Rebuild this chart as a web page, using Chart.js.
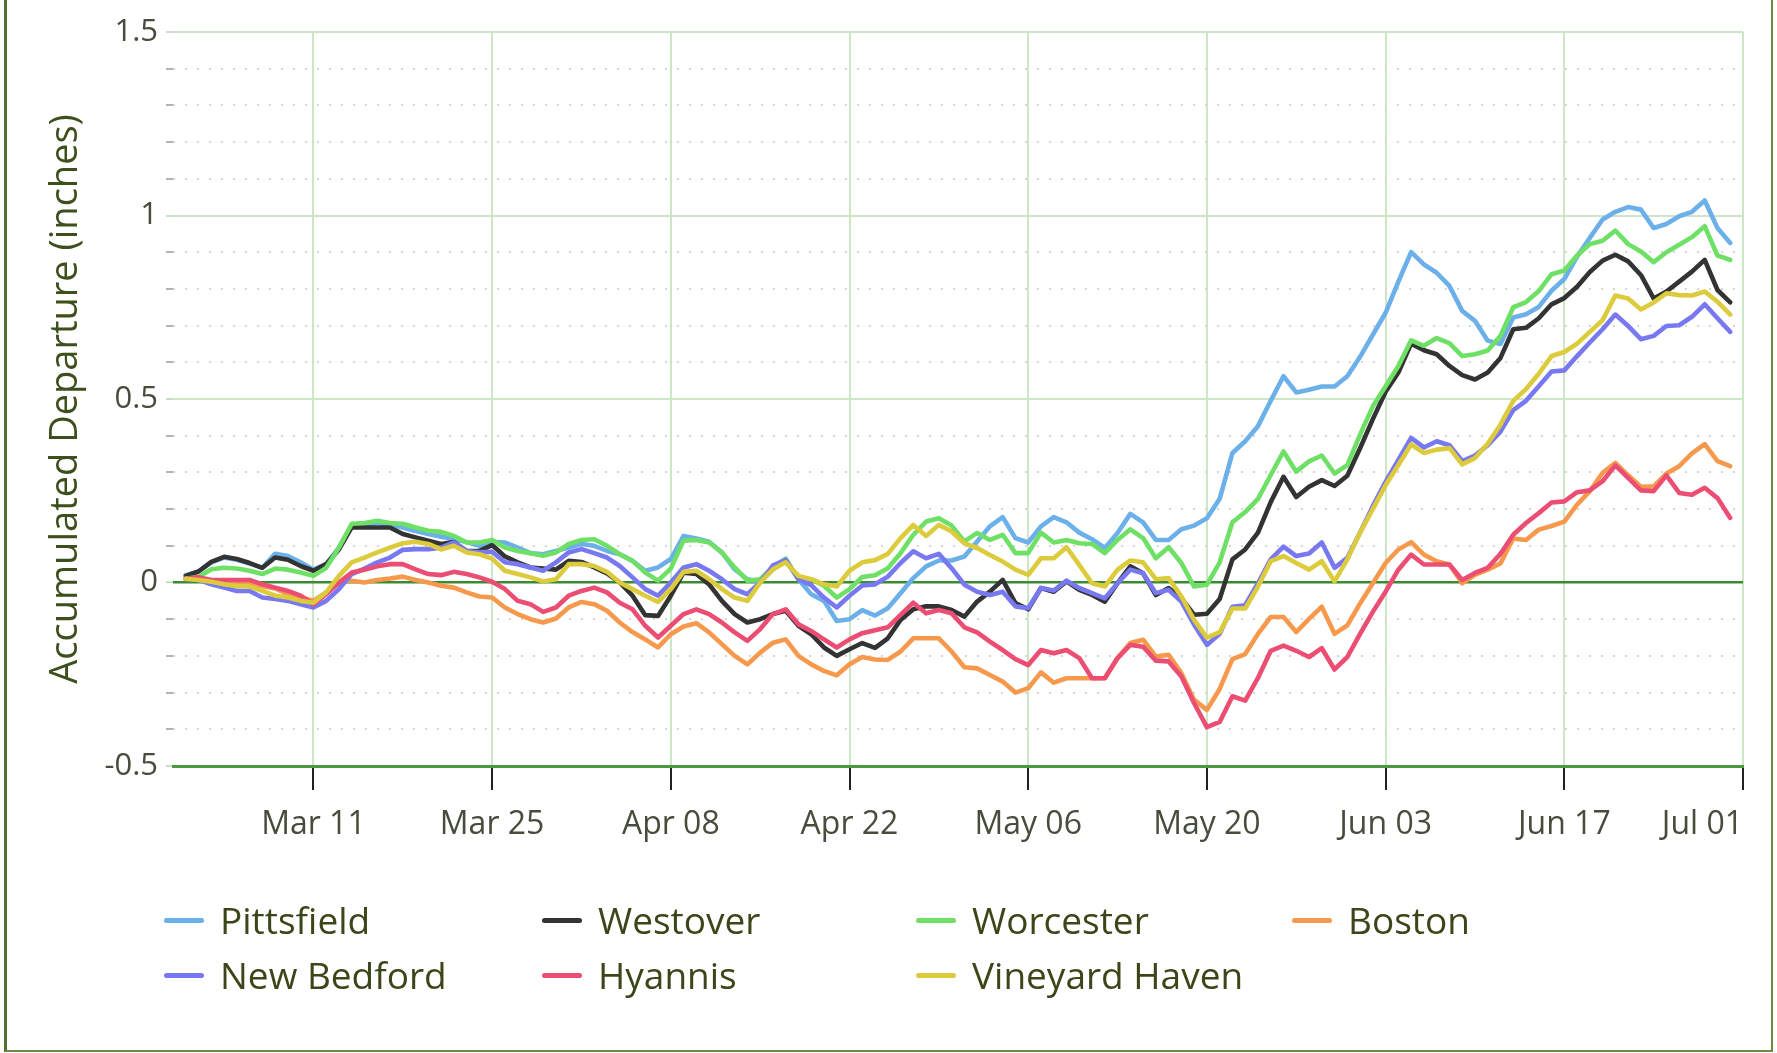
<!DOCTYPE html>
<html>
<head>
<meta charset="utf-8">
<script src="https://cdn.jsdelivr.net/npm/chart.js@4.4.1/dist/chart.umd.min.js"></script>
<style>
html,body{margin:0;padding:0;background:#fff;}
#wrap{position:relative;width:1777px;height:1053px;overflow:hidden;font-family:"Open Sans",sans-serif;background:#fff;}
#c{position:absolute;left:0;top:0;}
#frame{position:absolute;left:4px;top:-10px;width:1769px;height:1062px;border-left:3px solid #55702f;border-right:2px solid #6b8a48;border-bottom:2px solid #6b8a48;box-sizing:border-box;pointer-events:none;}
.lg{position:absolute;height:50px;line-height:50px;display:flex;align-items:center;font-size:37px;color:#3b4619;white-space:nowrap;}
.lg i{display:inline-block;width:40px;height:5px;border-radius:2.5px;margin-right:16px;}
</style>
</head>
<body>
<div id="wrap">
  <canvas id="c" width="1777" height="1053"></canvas>
  <div id="legend"></div>
  <div id="frame"></div>
</div>
<script>
// ---- data (day 0 = Mar 01, daily through Jun 30) ----
const seriesNames = ["Pittsfield","Westover","Worcester","Boston","New Bedford","Hyannis","Vineyard Haven"];
const seriesColors = ["#6cb0ea","#333333","#6fe066","#f7994d","#7878f0","#ec4d72","#dccb3c"];

const pittsfield = [
 0.02,0.03,0.055,0.068,0.062,0.052,0.04,0.078,0.072,0.055,
 0.035,0.05,0.095,0.155,0.158,0.162,0.158,0.15,0.14,0.132,
 0.125,0.118,0.11,0.1,0.111,0.109,0.095,0.08,0.077,0.086,
 0.095,0.105,0.1,0.086,0.077,0.059,0.032,0.041,0.064,0.127,
 0.12,0.111,0.082,0.036,0.009,0.002,0.035,0.062,0.009,-0.032,
 -0.05,-0.105,-0.1,-0.075,-0.09,-0.07,-0.029,0.012,0.044,0.06,
 0.06,0.071,0.112,0.153,0.178,0.121,0.109,0.153,0.178,0.164,
 0.136,0.118,0.094,0.135,0.187,0.164,0.116,0.116,0.145,0.155,
 0.175,0.228,0.353,0.385,0.426,0.495,0.562,0.518,0.525,0.534,
 0.534,0.562,0.615,0.675,0.735,0.82,0.9,0.867,0.844,0.808,
 0.74,0.713,0.659,0.65,0.722,0.731,0.751,0.795,0.827,0.888,
 0.939,0.989,1.01,1.023,1.016,0.966,0.977,0.998,1.01,1.041,
 0.966,0.925];
const westover = [
 0.018,0.03,0.056,0.07,0.064,0.053,0.04,0.068,0.062,0.045,
 0.032,0.05,0.09,0.15,0.15,0.15,0.15,0.132,0.123,0.114,
 0.105,0.11,0.086,0.086,0.102,0.071,0.055,0.041,0.038,0.035,
 0.059,0.056,0.041,0.025,0,-0.036,-0.089,-0.091,-0.036,0.027,
 0.023,-0.005,-0.05,-0.086,-0.109,-0.1,-0.086,-0.077,-0.118,-0.141,
 -0.177,-0.2,-0.182,-0.165,-0.178,-0.152,-0.102,-0.073,-0.065,-0.065,
 -0.075,-0.093,-0.052,-0.025,0.007,-0.056,-0.073,-0.015,-0.025,0.003,
 -0.02,-0.034,-0.052,-0.002,0.044,0.025,-0.034,-0.015,-0.043,-0.088,
 -0.085,-0.045,0.063,0.09,0.136,0.219,0.288,0.233,0.261,0.279,
 0.263,0.291,0.366,0.445,0.52,0.572,0.651,0.633,0.622,0.59,
 0.565,0.553,0.572,0.612,0.69,0.694,0.72,0.758,0.775,0.806,
 0.846,0.877,0.893,0.875,0.838,0.774,0.793,0.82,0.847,0.879,
 0.797,0.763];
const worcester = [
 0.01,0.015,0.036,0.04,0.038,0.032,0.023,0.038,0.035,0.027,
 0.018,0.04,0.095,0.16,0.162,0.168,0.162,0.16,0.15,0.141,
 0.138,0.127,0.109,0.109,0.116,0.095,0.086,0.08,0.073,0.082,
 0.105,0.116,0.118,0.1,0.077,0.059,0.027,0.005,0.038,0.114,
 0.116,0.109,0.082,0.041,0.005,0.009,0.041,0.065,0.009,0.009,
 -0.009,-0.041,-0.018,0.015,0.02,0.039,0.08,0.13,0.166,0.175,
 0.155,0.112,0.135,0.116,0.13,0.08,0.08,0.136,0.109,0.116,
 0.107,0.105,0.08,0.116,0.145,0.121,0.066,0.096,0.053,-0.011,
 -0.006,0.055,0.164,0.192,0.228,0.293,0.357,0.302,0.33,0.346,
 0.297,0.32,0.403,0.48,0.535,0.59,0.66,0.645,0.666,0.652,
 0.617,0.622,0.632,0.672,0.75,0.764,0.794,0.84,0.85,0.891,
 0.922,0.931,0.959,0.922,0.902,0.873,0.9,0.92,0.941,0.971,
 0.891,0.879];
const boston = [
 0.01,0.011,0.005,0,-0.005,-0.005,-0.01,-0.016,-0.032,-0.041,
 -0.05,-0.027,0,0.005,0,0.007,0.011,0.016,0.007,0,
 -0.009,-0.014,-0.027,-0.038,-0.041,-0.068,-0.086,-0.1,-0.109,-0.098,
 -0.068,-0.053,-0.059,-0.077,-0.109,-0.135,-0.155,-0.177,-0.141,-0.12,
 -0.111,-0.136,-0.168,-0.2,-0.223,-0.191,-0.164,-0.155,-0.2,-0.223,
 -0.241,-0.253,-0.223,-0.203,-0.21,-0.211,-0.188,-0.152,-0.152,-0.152,
 -0.188,-0.231,-0.234,-0.252,-0.27,-0.3,-0.288,-0.245,-0.273,-0.261,
 -0.261,-0.261,-0.261,-0.206,-0.165,-0.156,-0.202,-0.197,-0.247,-0.32,
 -0.347,-0.29,-0.209,-0.195,-0.14,-0.094,-0.094,-0.135,-0.099,-0.066,
 -0.14,-0.117,-0.057,-0.002,0.053,0.09,0.11,0.076,0.058,0.049,
 -0.002,0.021,0.035,0.052,0.12,0.116,0.144,0.154,0.166,0.212,
 0.249,0.299,0.326,0.292,0.261,0.262,0.297,0.317,0.352,0.377,
 0.331,0.317];
const newBedford = [
 0.01,0.007,-0.005,-0.014,-0.023,-0.023,-0.041,-0.045,-0.05,-0.059,
 -0.068,-0.05,-0.018,0.023,0.038,0.055,0.068,0.089,0.091,0.091,
 0.095,0.109,0.086,0.082,0.084,0.055,0.05,0.041,0.032,0.055,
 0.082,0.091,0.08,0.068,0.045,0.014,-0.018,-0.036,0,0.041,
 0.05,0.032,0.009,-0.018,-0.032,0,0.047,0.062,0.009,-0.007,
 -0.041,-0.068,-0.036,-0.008,-0.005,0.016,0.053,0.085,0.066,0.078,
 0.039,-0.006,-0.025,-0.034,-0.025,-0.065,-0.07,-0.015,-0.022,0.005,
 -0.015,-0.029,-0.043,-0.002,0.035,0.025,-0.029,-0.02,-0.052,-0.115,
 -0.17,-0.14,-0.066,-0.062,-0.002,0.063,0.098,0.072,0.079,0.109,
 0.04,0.067,0.136,0.208,0.274,0.334,0.394,0.368,0.385,0.374,
 0.331,0.346,0.374,0.411,0.47,0.495,0.535,0.575,0.578,0.617,
 0.654,0.69,0.73,0.699,0.663,0.672,0.699,0.701,0.724,0.758,
 0.72,0.683];
const hyannis = [
 0.01,0.014,0.007,0.007,0.007,0.007,-0.005,-0.014,-0.023,-0.036,
 -0.059,-0.032,0,0.027,0.035,0.044,0.05,0.05,0.036,0.023,
 0.02,0.029,0.023,0.014,0.002,-0.018,-0.05,-0.059,-0.08,-0.068,
 -0.036,-0.023,-0.014,-0.027,-0.055,-0.073,-0.118,-0.15,-0.118,-0.086,
 -0.073,-0.086,-0.109,-0.136,-0.159,-0.127,-0.086,-0.073,-0.114,-0.132,
 -0.155,-0.177,-0.155,-0.138,-0.13,-0.122,-0.088,-0.055,-0.084,-0.075,
 -0.084,-0.122,-0.136,-0.161,-0.184,-0.209,-0.225,-0.184,-0.193,-0.184,
 -0.206,-0.261,-0.261,-0.206,-0.17,-0.175,-0.213,-0.215,-0.256,-0.329,
 -0.394,-0.38,-0.31,-0.322,-0.26,-0.186,-0.172,-0.186,-0.203,-0.179,
 -0.237,-0.203,-0.14,-0.08,-0.025,0.035,0.076,0.049,0.049,0.049,
 0.007,0.026,0.04,0.078,0.13,0.162,0.189,0.218,0.221,0.246,
 0.251,0.276,0.319,0.285,0.251,0.249,0.292,0.244,0.239,0.258,
 0.23,0.176];
const vineyardHaven = [
 0.01,0.007,0.002,-0.005,-0.01,-0.011,-0.023,-0.036,-0.041,-0.05,
 -0.055,-0.027,0.018,0.055,0.068,0.082,0.095,0.107,0.111,0.105,
 0.09,0.1,0.082,0.077,0.065,0.032,0.023,0.014,0.003,0.009,
 0.05,0.05,0.045,0.029,0,-0.018,-0.036,-0.053,-0.018,0.029,
 0.032,0.009,-0.018,-0.041,-0.05,0,0.036,0.055,0.018,0.009,
 -0.005,-0.011,0.032,0.055,0.061,0.078,0.121,0.157,0.127,0.157,
 0.139,0.107,0.094,0.075,0.057,0.035,0.021,0.066,0.066,0.096,
 0.048,-0.002,-0.011,0.035,0.06,0.055,0.009,0.012,-0.038,-0.102,
 -0.15,-0.135,-0.071,-0.071,-0.011,0.058,0.072,0.053,0.035,0.058,
 0.003,0.063,0.136,0.2,0.265,0.32,0.376,0.353,0.362,0.366,
 0.322,0.339,0.378,0.43,0.495,0.527,0.569,0.617,0.628,0.651,
 0.683,0.715,0.782,0.774,0.744,0.763,0.788,0.783,0.782,0.793,
 0.765,0.73];

const xTickDays = [10,24,38,52,66,80,94,108,122];
const xTickLabels = ["Mar 11","Mar 25","Apr 08","Apr 22","May 06","May 20","Jun 03","Jun 17","Jul 01"];
const yMajorTicks = [-0.5,0,0.5,1,1.5];
const yTitle = "Accumulated Departure (inches)";

// ---- chart ----
const allSeries = [pittsfield, westover, worcester, boston, newBedford, hyannis, vineyardHaven];
const isMajor = v => yMajorTicks.some(m => Math.abs(m - v) < 1e-6);
const isVal = (v, m) => Math.abs(v - m) < 1e-6;

const datasets = allSeries.map((arr, i) => ({
  label: seriesNames[i],
  data: arr.map((v, d) => ({x: d, y: v})),
  borderColor: seriesColors[i],
  backgroundColor: seriesColors[i],
  borderWidth: 4.6,
  pointRadius: 0,
  pointHoverRadius: 0,
  tension: 0,
  fill: false,
  borderJoinStyle: 'round',
  borderCapStyle: 'round',
  order: allSeries.length - 1 - i
}));

const minorGrid = {
  id: 'minorGrid',
  beforeDatasetsDraw(chart) {
    const {ctx, chartArea: a, scales: {y}} = chart;
    ctx.save();
    ctx.strokeStyle = '#d6d6d6';
    ctx.lineWidth = 2;
    ctx.setLineDash([2, 10]);
    y.ticks.forEach(t => {
      if (!isMajor(t.value)) {
        const py = Math.round(y.getPixelForValue(t.value));
        ctx.beginPath();
        ctx.moveTo(a.left, py);
        ctx.lineTo(a.right, py);
        ctx.stroke();
      }
    });
    ctx.restore();
  }
};

new Chart(document.getElementById('c'), {
  type: 'line',
  data: {datasets},
  plugins: [minorGrid],
  options: {
    responsive: false,
    animation: false,
    layout: {padding: {left: 10, right: 34, top: 32, bottom: 187}},
    plugins: {legend: {display: false}, tooltip: {enabled: false}},
    scales: {
      x: {
        type: 'linear',
        min: -1,
        max: 122,
        afterBuildTicks: axis => {
          axis.ticks = [{value: -1}].concat(xTickDays.map(v => ({value: v})));
        },
        afterFit: s => { s.height = 100; },
        ticks: {
          autoSkip: false,
          maxRotation: 0,
          minRotation: 0,
          align: 'inner',
          padding: 16,
          color: '#474d3c',
          font: {family: 'Open Sans', size: 32},
          callback: v => { const i = xTickDays.indexOf(v); return i >= 0 ? xTickLabels[i] : ''; }
        },
        grid: {
          color: c => (c.tick && c.tick.value === -1) ? 'rgba(0,0,0,0)' : '#cde6c6',
          lineWidth: 2,
          drawTicks: true,
          tickLength: 24,
          tickWidth: 2,
          tickColor: c => (c.tick && c.tick.value === -1) ? 'rgba(0,0,0,0)' : '#222222'
        },
        border: {display: true, color: '#4b9a3f', width: 3}
      },
      y: {
        type: 'linear',
        min: -0.5,
        max: 1.5,
        afterFit: s => { s.width = 163; },
        ticks: {
          stepSize: 0.1,
          autoSkip: false,
          padding: 8,
          color: '#474d3c',
          font: {family: 'Open Sans', size: 31},
          callback: v => isMajor(v) ? String(Math.round(v * 10) / 10) : ''
        },
        grid: {
          color: c => {
            if (!c.tick) return '#cde6c6';
            const v = c.tick.value;
            if (isVal(v, 0)) return '#3a8a32';
            if (isVal(v, -0.5)) return '#4b9a3f';
            return isMajor(v) ? '#cde6c6' : 'rgba(0,0,0,0)';
          },
          lineWidth: c => (c.tick && isVal(c.tick.value, 0)) ? 2.5 : 2,
          drawTicks: true,
          tickLength: 7,
          tickWidth: 1.5,
          tickColor: c => (c.tick && isMajor(c.tick.value)) ? '#b5d6ad' : '#9a9a9a'
        },
        border: {display: false},
        title: {
          display: true,
          text: yTitle,
          color: '#3d4f1c',
          font: {family: 'Open Sans', size: 38},
          padding: {top: 33, bottom: 0}
        }
      }
    }
  }
});

// ---- legend (HTML, built from the series arrays) ----
const legendCols = [164, 542, 916, 1292];
const legendRows = [920, 975];
const lg = document.getElementById('legend');
seriesNames.forEach((name, i) => {
  const d = document.createElement('div');
  d.className = 'lg';
  d.style.left = legendCols[i % 4] + 'px';
  d.style.top = (legendRows[Math.floor(i / 4)] - 25) + 'px';
  const m = document.createElement('i');
  m.style.background = seriesColors[i];
  d.appendChild(m);
  d.appendChild(document.createTextNode(name));
  lg.appendChild(d);
});
</script>
</body>
</html>
